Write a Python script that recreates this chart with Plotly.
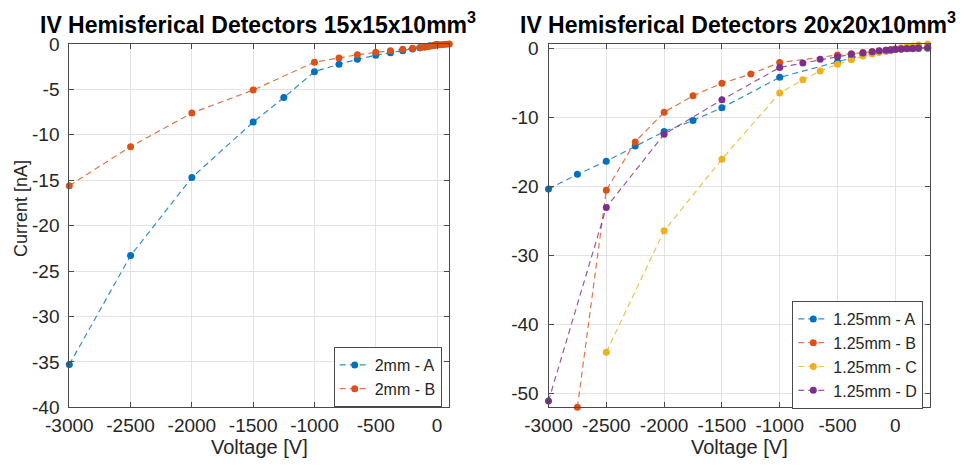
import plotly.graph_objects as go

# ---------------- data ----------------
# Left panel: 15x15x10 mm^3
v_2mm_a = [-3000, -2500, -2000, -1500, -1250, -1000, -800, -650, -500, -380, -280, -200, -140, -100, -60, -20, 0]
i_2mm_a = [-35.3, -23.3, -14.7, -8.6, -5.9, -3.05, -2.24, -1.68, -1.25, -0.95, -0.73, -0.55, -0.42, -0.32, -0.2, -0.1, -0.05]

v_2mm_b = [-3000, -2500, -2000, -1500, -1000, -800, -650, -500, -380, -280, -200, -140, -100, -75, -50, -25, 0, 25, 50, 75, 100]
i_2mm_b = [-15.6, -11.3, -7.6, -5.07, -2.0, -1.54, -1.18, -0.92, -0.73, -0.59, -0.48, -0.4, -0.33, -0.28, -0.22, -0.17, -0.12, -0.08, -0.05, -0.02, 0.0]

# Right panel: 20x20x10 mm^3
v_125_a = [-3000, -2750, -2500, -2250, -2000, -1750, -1500, -1000, -500, -380, -280, -200, -140, -80, -40, 0, 50, 100, 150, 200, 280]
i_125_a = [-20.35, -18.2, -16.3, -14.1, -12.0, -10.4, -8.55, -4.14, -1.9, -1.3, -0.9, -0.65, -0.45, -0.3, -0.2, -0.1, -0.05, 0.0, 0.02, 0.05, 0.1]

v_125_b = [-2750, -2500, -2250, -2000, -1750, -1500, -1250, -1000, -500, -380, -280, -200, -140, -80, -40, 0, 50, 100, 150, 200, 280]
i_125_b = [-52.0, -20.5, -13.5, -9.2, -6.8, -5.0, -3.66, -2.0, -0.9, -0.7, -0.55, -0.42, -0.3, -0.2, -0.12, -0.05, 0.0, 0.03, 0.06, 0.1, 0.15]

v_125_c = [-2500, -2000, -1500, -1000, -800, -650, -500, -380, -280, -200, -140, -80, -40, 0, 50, 100, 150, 200, 280]
i_125_c = [-44.0, -26.4, -16.0, -6.4, -4.5, -3.2, -2.25, -1.58, -1.05, -0.75, -0.5, -0.3, -0.15, 0.0, 0.15, 0.3, 0.4, 0.55, 0.7]

v_125_d = [-3000, -2500, -2000, -1500, -1000, -800, -650, -500, -380, -280, -200, -140, -80, -40, 0, 50, 100, 150, 200, 280]
i_125_d = [-51.1, -23.0, -12.4, -7.4, -2.7, -2.06, -1.53, -1.14, -0.8, -0.61, -0.42, -0.27, -0.2, -0.12, -0.05, 0.0, 0.05, 0.1, 0.15, 0.2]

x_tick_vals = [-3000, -2500, -2000, -1500, -1000, -500, 0]
x_tick_text = ["-3000", "-2500", "-2000", "-1500", "-1000", "-500", "0"]
y_left_vals = [-40, -35, -30, -25, -20, -15, -10, -5, 0]
y_left_text = ["-40", "-35", "-30", "-25", "-20", "-15", "-10", "-5", "0"]
y_right_vals = [-50, -40, -30, -20, -10, 0]
y_right_text = ["-50", "-40", "-30", "-20", "-10", "0"]

title_left = "IV Hemisferical Detectors 15x15x10mm<sup>3</sup>"
title_right = "IV Hemisferical Detectors 20x20x10mm<sup>3</sup>"
x_label = "Voltage [V]"
y_label = "Current [nA]"

# ---------------- styling ----------------
W, H = 972, 467
def px(x):
    return x / W
def py(y):
    return 1 - y / H

FONT = "Liberation Sans, Arial, Helvetica, sans-serif"
BLUE = "#0072BD"
ORANGE = "#D95319"
YELLOW = "#EDB120"
PURPLE = "#7E2F8E"

def line_rgba(hexc, a=0.8):
    h = hexc.lstrip("#")
    r, g, b = int(h[0:2], 16), int(h[2:4], 16), int(h[4:6], 16)
    return f"rgba({r},{g},{b},{a})"

def trace(x, y, name, color, xa, ya, legend):
    return go.Scatter(
        x=x, y=y, name=name, mode="lines+markers",
        xaxis=xa, yaxis=ya, legend=legend,
        line=dict(color=line_rgba(color), width=1.2, dash="6px,4px"),
        marker=dict(color=color, size=7),
        cliponaxis=False,
    )

fig = go.Figure()
fig.add_trace(trace(v_2mm_a, i_2mm_a, "2mm - A", BLUE, "x", "y", "legend"))
fig.add_trace(trace(v_2mm_b, i_2mm_b, "2mm - B", ORANGE, "x", "y", "legend"))
fig.add_trace(trace(v_125_a, i_125_a, "1.25mm - A", BLUE, "x2", "y2", "legend2"))
fig.add_trace(trace(v_125_b, i_125_b, "1.25mm - B", ORANGE, "x2", "y2", "legend2"))
fig.add_trace(trace(v_125_c, i_125_c, "1.25mm - C", YELLOW, "x2", "y2", "legend2"))
fig.add_trace(trace(v_125_d, i_125_d, "1.25mm - D", PURPLE, "x2", "y2", "legend2"))

AX_COLOR = "#4a4a4a"
GRID = "#e3e3e3"
TICK_FONT = dict(family=FONT, size=19, color="#262626")

common_ax = dict(
    showline=True, linecolor=AX_COLOR, linewidth=1, mirror="ticks",
    ticks="inside", ticklen=5, tickcolor=AX_COLOR, tickwidth=1,
    showgrid=True, gridcolor=GRID, gridwidth=1, zeroline=False,
    tickfont=TICK_FONT, fixedrange=True, automargin=False,
)

y_top = py(44)
y_bot = py(407.3)

fig.update_layout(
    width=W, height=H, autosize=False,
    margin=dict(l=0, r=0, t=0, b=0, autoexpand=False),
    paper_bgcolor="white", plot_bgcolor="white",
    font=dict(family=FONT, color="#262626"),
    xaxis=dict(domain=[px(69.3), px(449.3)], range=[-3000, 100], anchor="y", ticklabelstandoff=1,
               tickmode="array", tickvals=x_tick_vals, ticktext=x_tick_text, **common_ax),
    yaxis=dict(domain=[y_bot, y_top], range=[-40, 0], anchor="x", ticklabelstandoff=5,
               tickmode="array", tickvals=y_left_vals, ticktext=y_left_text, **common_ax),
    xaxis2=dict(domain=[px(548.5), px(930)], range=[-3000, 300], anchor="y2", ticklabelstandoff=1,
                tickmode="array", tickvals=x_tick_vals, ticktext=x_tick_text, **common_ax),
    yaxis2=dict(domain=[y_bot, y_top], range=[-52, 0.7], anchor="x2", ticklabelstandoff=5,
                tickmode="array", tickvals=y_right_vals, ticktext=y_right_text, **common_ax),
    legend=dict(x=px(441.7), xanchor="right", y=py(377), yanchor="middle",
                bgcolor="white", bordercolor=AX_COLOR, borderwidth=1,
                font=dict(family=FONT, size=16, color="#262626"),
                tracegroupgap=0, itemwidth=30),
    legend2=dict(x=px(923.3), xanchor="right", y=py(355), yanchor="middle",
                 bgcolor="white", bordercolor=AX_COLOR, borderwidth=1,
                 font=dict(family=FONT, size=16, color="#262626"),
                 tracegroupgap=0, itemwidth=30),
    showlegend=True,
)

annots = [
    dict(text="<b>" + title_left + "</b>", x=px(258), y=py(23), xanchor="center", yanchor="middle",
         font=dict(family=FONT, size=23, color="black")),
    dict(text="<b>" + title_right + "</b>", x=px(738), y=py(23), xanchor="center", yanchor="middle",
         font=dict(family=FONT, size=23, color="black")),
    dict(text=x_label, x=px(259), y=py(447), xanchor="center", yanchor="middle",
         font=dict(family=FONT, size=20, color="#262626")),
    dict(text=x_label, x=px(739.5), y=py(447), xanchor="center", yanchor="middle",
         font=dict(family=FONT, size=20, color="#262626")),
    dict(text=y_label, x=px(21), y=py(209), xanchor="center", yanchor="middle", textangle=-90,
         font=dict(family=FONT, size=18, color="#262626")),
]
for a in annots:
    fig.add_annotation(xref="paper", yref="paper", showarrow=False, **a)

fig.write_html("out.html")
